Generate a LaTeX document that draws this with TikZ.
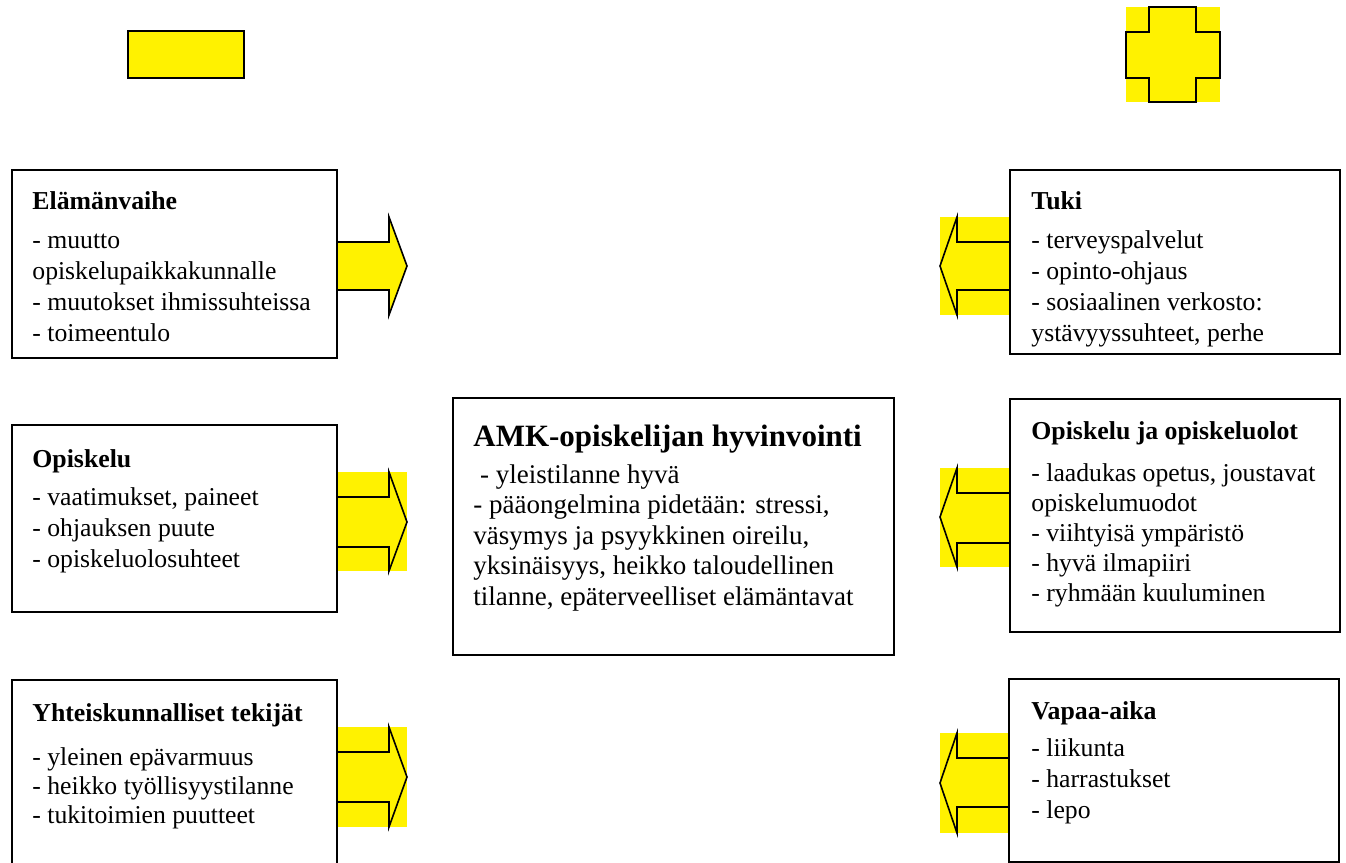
\documentclass[tikz,border=0pt]{standalone}
\usepackage{fontspec}
\setmainfont{Liberation Serif}
\newcommand\lineit[1]{\hbox{#1}}
\newcommand\txtlines[2]{\vtop{\baselineskip=#1\lineskiplimit=-100pt #2}}
\begin{document}
\begin{tikzpicture}[x=0.5pt,y=-0.5pt,
  frame/.style={draw=black,line width=0.9pt,fill=white},
  yelrect/.style={fill=yellow,draw=none},
  blockarrow/.style={fill=yellow,draw=black,line width=0.8pt,line join=miter},
  ttl/.style={anchor=base west,inner sep=0pt,font=\bfseries\fontsize{12.9}{15}\selectfont},
  body/.style={anchor=base west,inner sep=0pt,font=\fontsize{12.85}{15}\selectfont},
  ctitle/.style={anchor=base west,inner sep=0pt,font=\bfseries\fontsize{15.5}{18}\selectfont},
  cbody/.style={anchor=base west,inner sep=0pt,font=\fontsize{13.5}{15}\selectfont}]
\useasboundingbox[fill=white] (0,0) rectangle (1346,863);

% legend shapes
\draw[fill=yellow,draw=black,line width=0.9pt] (128,31) rectangle (244,78);
\fill[yellow] (1126,7) rectangle (1220,102);
\draw[line width=0.9pt,line join=miter] (1149,7) -- (1196,7) -- (1196,32) -- (1220,32) -- (1220,78) -- (1196,78) -- (1196,102) -- (1149,102) -- (1149,78) -- (1126,78) -- (1126,32) -- (1149,32) -- cycle;

% left arrows
\path[blockarrow] (337,242) -- (389,242) -- (389,217) -- (407,266) -- (389,315) -- (389,290) -- (337,290) -- cycle;
\fill[yelrect] (337,472) rectangle (407,571);
\path[blockarrow] (337,497) -- (389,497) -- (389,472) -- (407,522) -- (389,571) -- (389,547) -- (337,547) -- cycle;
\fill[yelrect] (337,727) rectangle (407,827);
\path[blockarrow] (337,752) -- (389,752) -- (389,727) -- (407,777) -- (389,827) -- (389,802) -- (337,802) -- cycle;

% right arrows
\fill[yelrect] (940,217) rectangle (1010,315);
\path[blockarrow] (1010,242) -- (957,242) -- (957,217) -- (940,266) -- (957,315) -- (957,290) -- (1010,290) -- cycle;
\fill[yelrect] (940,468) rectangle (1010,567);
\path[blockarrow] (1010,493) -- (957,493) -- (957,468) -- (940,517) -- (957,567) -- (957,543) -- (1010,543) -- cycle;
\fill[yelrect] (940,733) rectangle (1010,833);
\path[blockarrow] (1010,758) -- (957,758) -- (957,733) -- (940,783) -- (957,833) -- (957,807) -- (1010,807) -- cycle;

% frames
\draw[frame] (12,170) rectangle (337,358);
\draw[frame] (12,425) rectangle (337,612);
\draw[frame] (12,680) rectangle (337,880);
\draw[frame] (453,398) rectangle (894,655);
\draw[frame] (1010,170) rectangle (1340,354);
\draw[frame] (1010,399) rectangle (1340,632);
\draw[frame] (1009,679) rectangle (1339,862);

% left texts
\node[ttl] (t1) at (32,209) {Elämänvaihe};
\node[body] (l1) at (32,248) {\txtlines{15.5pt}{\lineit{- muutto}\lineit{opiskelupaikkakunnalle}\lineit{- muutokset ihmissuhteissa}\lineit{- toimeentulo}}};
\node[ttl] (t2) at (32,467) {Opiskelu};
\node[body] (l2) at (32,505) {\txtlines{15.5pt}{\lineit{- vaatimukset, paineet}\lineit{- ohjauksen puute}\lineit{- opiskeluolosuhteet}}};
\node[ttl] (t3) at (32,721) {Yhteiskunnalliset tekijät};
\node[body] (l3) at (32,765) {\txtlines{14.5pt}{\lineit{- yleinen epävarmuus}\lineit{- heikko työllisyystilanne}\lineit{- tukitoimien puutteet}}};

% centre
\node[ctitle] (ct) at (473,446) {AMK-opiskelijan hyvinvointi};
\node[cbody] (cl) at (473,483) {\txtlines{15.25pt}{\lineit{\ - yleistilanne hyvä}\lineit{- pääongelmina pidetään: stressi,}\lineit{väsymys ja psyykkinen oireilu,}\lineit{yksinäisyys, heikko taloudellinen}\lineit{tilanne, epäterveelliset elämäntavat}}};

% right texts
\node[ttl] (t4) at (1031,209) {Tuki};
\node[body] (l4) at (1031,248) {\txtlines{15.5pt}{\lineit{- terveyspalvelut}\lineit{- opinto-ohjaus}\lineit{- sosiaalinen verkosto:}\lineit{ystävyyssuhteet, perhe}}};
\node[ttl] (t5) at (1031,439) {Opiskelu ja opiskeluolot};
\node[body] (l5) at (1031,481) {\txtlines{15.1pt}{\lineit{- laadukas opetus, joustavat}\lineit{opiskelumuodot}\lineit{- viihtyisä ympäristö}\lineit{- hyvä ilmapiiri}\lineit{- ryhmään kuuluminen}}};
\node[ttl] (t6) at (1031,719) {Vapaa-aika};
\node[body] (l6) at (1031,756) {\txtlines{15.5pt}{\lineit{- liikunta}\lineit{- harrastukset}\lineit{- lepo}}};
\end{tikzpicture}
\end{document}
